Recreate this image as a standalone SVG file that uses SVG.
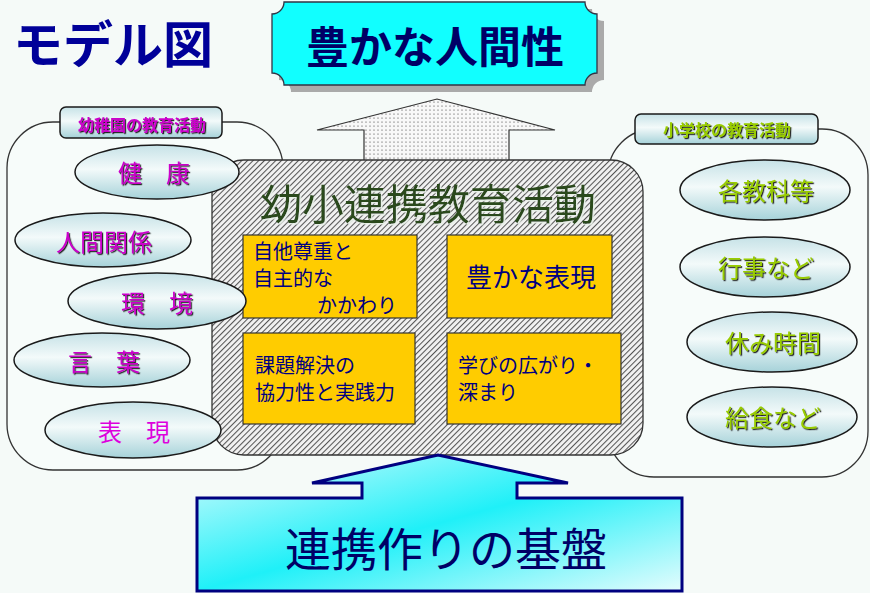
<svg xmlns="http://www.w3.org/2000/svg" width="870" height="593" viewBox="0 0 870 593">
<defs>
<style>
.jp{font-family:"Noto Sans CJK JP","Noto Sans CJK SC",sans-serif;}
.panel{fill:#F7FCFA;stroke:#333;stroke-width:1.3;}
.ell{fill:url(#gEll);stroke:#1a1a1a;stroke-width:1.5;}
.lab{fill:url(#gEll);stroke:#1a1a1a;stroke-width:1.5;}
.ybox{fill:#FFCC00;stroke:#333;stroke-width:1.2;}
.mag{fill:#CC00CC;font-size:24px;filter:url(#shDark);}
.grn{fill:#99CC00;font-size:24px;filter:url(#shDark);}
.bt{fill:#000080;font-size:20px;}
</style>
<linearGradient id="gEll" x1="0" y1="0" x2="0" y2="1">
<stop offset="0" stop-color="#C6E2E7"/>
<stop offset="0.45" stop-color="#F3FAFA"/>
<stop offset="1" stop-color="#A6D2D9"/>
</linearGradient>
<linearGradient id="gBot" x1="0" y1="0" x2="1" y2="1">
<stop offset="0" stop-color="#D8FBFD"/>
<stop offset="0.5" stop-color="#1FF0F8"/>
<stop offset="1" stop-color="#E4FCFD"/>
</linearGradient>
<pattern id="hatch" width="4" height="4" patternUnits="userSpaceOnUse" patternTransform="rotate(-45)">
<rect width="4" height="4" fill="#F2F2F2"/>
<line x1="0" y1="0.5" x2="4" y2="0.5" stroke="#555" stroke-width="1.1"/>
</pattern>
<pattern id="dots" width="4" height="4" patternUnits="userSpaceOnUse">
<rect width="4" height="4" fill="#F8F8F8"/>
<circle cx="2" cy="2" r="0.6" fill="#333"/>
</pattern>
<filter id="shDark" x="-10%" y="-10%" width="120%" height="130%">
<feDropShadow dx="1.2" dy="1.2" stdDeviation="0.2" flood-color="#222"/>
</filter>
<filter id="shLight" x="-10%" y="-10%" width="120%" height="130%">
<feDropShadow dx="1.5" dy="1.5" stdDeviation="0.3" flood-color="#E8F0E8"/>
</filter>
</defs>
<rect width="870" height="593" fill="#F5FAF8"/>

<g id="title">
<text class="jp" x="13" y="63" font-size="50" font-weight="bold" fill="#000099">モデル図</text>
</g>

<g id="panel-left">
<rect class="panel" x="7" y="122" width="276" height="348" rx="46"/>
<rect class="lab" x="60" y="107" width="162" height="31" rx="6"/>
<text class="jp" x="142" y="131" font-size="16" font-weight="bold" fill="#CC00CC" text-anchor="middle" filter="url(#shDark)">幼稚園の教育活動</text>
</g>

<g id="panel-right">
<rect class="panel" x="608" y="129" width="260" height="348" rx="46"/>
<rect class="lab" x="635" y="114" width="183" height="30" rx="6"/>
<text class="jp" x="727" y="136" font-size="16" font-weight="bold" fill="#99CC00" text-anchor="middle" filter="url(#shDark)">小学校の教育活動</text>
</g>

<g id="banner">
<path d="M291 9 H592 A12 12 0 0 0 604 21 V80 A12 12 0 0 0 592 92 H291 A12 12 0 0 0 279 80 V21 A12 12 0 0 0 291 9 Z" fill="#AAAAAA"/>
<path d="M284 2 H585 A12 12 0 0 0 597 14 V73 A12 12 0 0 0 585 85 H284 A12 12 0 0 0 272 73 V14 A12 12 0 0 0 284 2 Z" fill="#11FFFF" stroke="#334" stroke-width="1.3"/>
<text class="jp" x="435" y="63" font-size="43" font-weight="bold" fill="#000066" text-anchor="middle">豊かな人間性</text>
</g>

<g id="connectors">
<polygon points="364,162 364,130 317,130 437,99 555,130 509,130 509,162" fill="url(#dots)" stroke="#333" stroke-width="1.2"/>
</g>

<g id="center">
<rect x="212" y="160" width="431" height="295" rx="32" fill="url(#hatch)" stroke="#333" stroke-width="1.3"/>
<text class="jp" x="428" y="220" font-size="42" fill="#2A4A1C" text-anchor="middle" filter="url(#shLight)">幼小連携教育活動</text>
</g>

<g id="box1">
<rect class="ybox" x="243" y="235" width="174" height="83"/>
<text class="jp bt" x="253" y="259">自他尊重と</text>
<text class="jp bt" x="253" y="286">自主的な</text>
<text class="jp bt" x="317" y="313">かかわり</text>
</g>
<g id="box2">
<rect class="ybox" x="447" y="235" width="165" height="83"/>
<text class="jp" x="531" y="287" font-size="26" fill="#000080" text-anchor="middle">豊かな表現</text>
</g>
<g id="box3">
<rect class="ybox" x="243" y="333" width="172" height="91"/>
<text class="jp bt" x="255" y="373">課題解決の</text>
<text class="jp bt" x="255" y="400">協力性と実践力</text>
</g>
<g id="box4">
<rect class="ybox" x="447" y="333" width="174" height="91"/>
<text class="jp bt" x="458" y="373">学びの広がり・</text>
<text class="jp bt" x="458" y="400">深まり</text>
</g>

<g id="kenkou">
<ellipse class="ell" cx="157" cy="172" rx="82" ry="27"/>
<text class="jp mag" x="154" y="182" text-anchor="middle">健　康</text>
</g>
<g id="ningen">
<ellipse class="ell" cx="103" cy="240" rx="88" ry="27"/>
<text class="jp mag" x="104" y="251" text-anchor="middle">人間関係</text>
</g>
<g id="kankyou">
<ellipse class="ell" cx="157" cy="301" rx="89" ry="28"/>
<text class="jp mag" x="157" y="312" text-anchor="middle">環　境</text>
</g>
<g id="kotoba">
<ellipse class="ell" cx="102" cy="360" rx="88" ry="27"/>
<text class="jp mag" x="104" y="371" text-anchor="middle">言　葉</text>
</g>
<g id="hyougen">
<ellipse class="ell" cx="133" cy="430" rx="88" ry="28"/>
<text class="jp" x="134" y="441" font-size="24" fill="#DD00DD" text-anchor="middle">表　現</text>
</g>

<g id="kakukyouka">
<ellipse class="ell" cx="765" cy="190" rx="85" ry="30"/>
<text class="jp grn" x="766" y="200" text-anchor="middle">各教科等</text>
</g>
<g id="gyouji">
<ellipse class="ell" cx="765" cy="267" rx="85" ry="30"/>
<text class="jp grn" x="766" y="277" text-anchor="middle">行事など</text>
</g>
<g id="yasumi">
<ellipse class="ell" cx="772" cy="342" rx="85" ry="30"/>
<text class="jp grn" x="773" y="352" text-anchor="middle">休み時間</text>
</g>
<g id="kyuushoku">
<ellipse class="ell" cx="772" cy="417" rx="85" ry="30"/>
<text class="jp grn" x="773" y="427" text-anchor="middle">給食など</text>
</g>

<g id="base">
<polygon points="197,498 362,498 362,483 312,483 438,455 568,483 517,483 517,498 682,498 682,591 197,591" fill="url(#gBot)" stroke="#000080" stroke-width="3" stroke-linejoin="miter"/>
<text class="jp" x="446" y="566" font-size="46" fill="#000066" text-anchor="middle">連携作りの基盤</text>
</g>
</svg>
